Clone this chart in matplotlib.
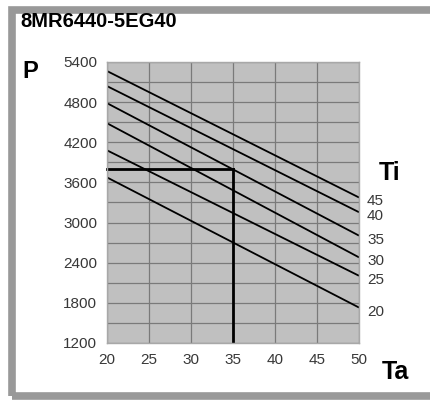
import matplotlib.pyplot as plt
from matplotlib.patches import Rectangle
import numpy as np

# Ta axis (ambient temperature) and curve end points for each Ti
ta = [20, 50]
ti_labels = ['45', '40', '35', '30', '25', '20']
p_start = [5265, 5040, 4785, 4485, 4080, 3675]   # P at Ta=20
p_end = [3375, 3155, 2805, 2480, 2205, 1730]     # P at Ta=50

# example reading marked by the thick lines
mark_ta = 35
mark_p = 3800

xticks = [20, 25, 30, 35, 40, 45, 50]
yticks = [1200, 1800, 2400, 3000, 3600, 4200, 4800, 5400]

plt.rcParams['font.family'] = ['Liberation Sans', 'DejaVu Sans']

fig = plt.figure(figsize=(4.30, 4.01), dpi=100)
W, H = 430, 401

# outer grey frame (open on the right)
fig.patches.append(Rectangle((12 / W, 5 / H), 1.2, (391 - 5) / H, transform=fig.transFigure,
                             fill=False, edgecolor='#999999', linewidth=5.5, clip_on=False))

ax = fig.add_axes([107 / W, (H - 343) / H, 252 / W, 281 / H])
ax.set_facecolor('#c0c0c0')

for ps, pe in zip(p_start, p_end):
    ax.plot(ta, [ps, pe], color='black', linewidth=1.3, solid_capstyle='butt')

# thick reading lines
ax.plot([20, mark_ta], [mark_p, mark_p], color='black', linewidth=2.0, clip_on=False)
ax.plot([mark_ta, mark_ta], [1200, mark_p], color='black', linewidth=2.0)

ax.set_xlim(20, 50)
ax.set_ylim(1200, 5400)
ax.set_xticks(xticks)
ax.set_yticks(yticks)
ax.set_yticks(np.arange(1500, 5400, 600), minor=True)
ax.grid(True, which='both', color='#7a7a7a', linewidth=0.9)
ax.set_axisbelow(True)
ax.tick_params(which='both', length=0, labelsize=11, labelcolor='#383838')
ax.tick_params(axis='x', pad=7)
ax.tick_params(axis='y', pad=7)
for s in ax.spines.values():
    s.set_color('#a8a8a8')
    s.set_linewidth(1)

# Ti labels at the right end of each curve
for lab, pe in zip(ti_labels, p_end):
    ax.annotate(lab, (50, pe), xytext=(8, -4), textcoords='offset pixels',
                ha='left', va='center', fontsize=11, color='#383838', annotation_clip=False)

fig.text(20 / W, 1 - 21.5 / H, '8MR6440-5EG40', fontsize=14.5, fontweight='bold', ha='left', va='center')
fig.text(22 / W, 1 - 71.5 / H, 'P', fontsize=17, fontweight='bold', ha='left', va='center')
fig.text(379 / W, 1 - 173 / H, 'Ti', fontsize=18, fontweight='bold', ha='left', va='center')
fig.text(382 / W, 1 - 372 / H, 'Ta', fontsize=18, fontweight='bold', ha='left', va='center')

fig.savefig('out.png', dpi=100)
